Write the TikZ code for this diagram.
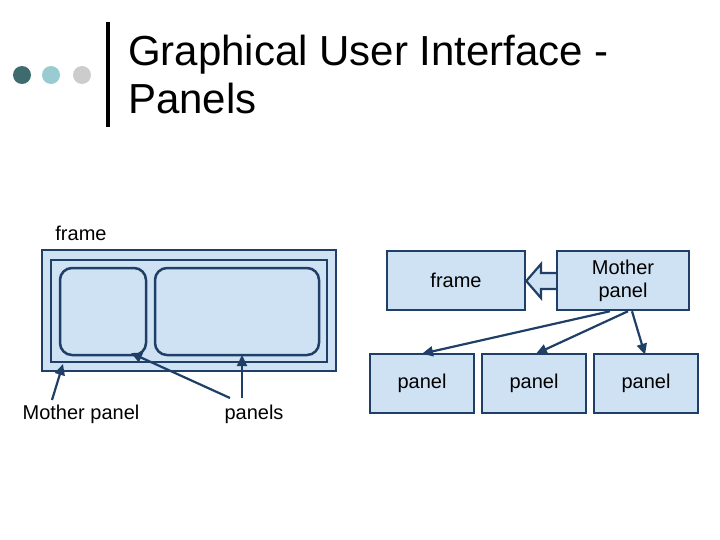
\documentclass[tikz,border=0pt]{standalone}
\usepackage{fontspec}
\setmainfont{Liberation Sans}
\usetikzlibrary{arrows.meta}
\definecolor{boxfill}{HTML}{CFE2F3}
\definecolor{boxline}{HTML}{1F3F66}
\definecolor{dotA}{HTML}{3D6B6E}
\definecolor{dotB}{HTML}{99CCD0}
\definecolor{dotC}{HTML}{CCCCCC}
\tikzset{
  box/.style={draw=boxline, fill=boxfill, line width=2.5pt, inner sep=0pt, font=\fontsize{20}{23}\selectfont},
  lab/.style={inner sep=0pt, font=\fontsize{20}{23}\selectfont},
  arr/.style={draw=boxline, line width=2.2pt, -{Triangle[length=11pt,width=10pt]}}
}
\begin{document}
\begin{tikzpicture}[x=1pt, y=-1pt]
\useasboundingbox (0,0) rectangle (720,540);
% header
\fill[dotA] (22,75) circle (9);
\fill[dotB] (51,75) circle (9);
\fill[dotC] (82,75) circle (9);
\fill[black] (105.5,22) rectangle (109.5,127);
\node[anchor=base west, inner sep=0pt, font=\fontsize{42}{45}\selectfont] (t1) at (128,66) {Graphical User Interface -};
\node[anchor=base west, inner sep=0pt, font=\fontsize{42}{45}\selectfont] (t2) at (128,114) {Panels};
% left picture
\node[box, minimum width=294pt, minimum height=121pt] (outer) at (189,310.5) {};
\node[box, line width=2pt, minimum width=276pt, minimum height=102pt] (inner) at (189,311) {};
\node[box, rounded corners=12pt, minimum width=86pt, minimum height=87pt] (p1) at (103,311.5) {};
\node[box, rounded corners=12pt, minimum width=164pt, minimum height=87pt] (p2) at (237,311.5) {};
\node[lab] (lframe) at (81,233) {frame};
\node[lab] (lmother) at (81,414) {Mother panel};
\node[lab] (lpanels) at (254,414) {panels};
\coordinate (m0) at (52,400);
\coordinate (m1) at (63,364);
\coordinate (a0) at (230,398);
\coordinate (a1) at (131,353);
\coordinate (b0) at (242,398);
\coordinate (b1) at (242,355);
\draw[arr] (m0) -- (m1);
\draw[arr] (a0) -- (a1);
\draw[arr] (b0) -- (b1);
% right picture
\node[box, minimum width=138pt, minimum height=59pt] (frame) at (456,280.5) {frame};
\node[box, minimum width=132pt, minimum height=59pt, align=center] (mother) at (623,280.5) {Mother\\panel};
\draw[draw=boxline, fill=boxfill, line width=2.2pt, line join=miter]
  (mother.west |- 0,273) -- (541,273) -- (541,264) -- (frame.east |- 0,281) -- (541,298) -- (541,289) -- (mother.west |- 0,289);
\node[box, minimum width=104pt, minimum height=59pt] (q1) at (422,383.5) {panel};
\node[box, minimum width=104pt, minimum height=59pt] (q2) at (534,383.5) {panel};
\node[box, minimum width=104pt, minimum height=59pt] (q3) at (646,383.5) {panel};
\draw[arr] ([xshift=-13pt]mother.south) -- ([yshift=-1pt]q1.north);
\draw[arr] ([xshift=5pt]mother.south) -- ([xshift=2pt, yshift=-1pt]q2.north);
\draw[arr] ([xshift=9pt]mother.south) -- ([xshift=-1pt, yshift=-2pt]q3.north);
\end{tikzpicture}
\end{document}
